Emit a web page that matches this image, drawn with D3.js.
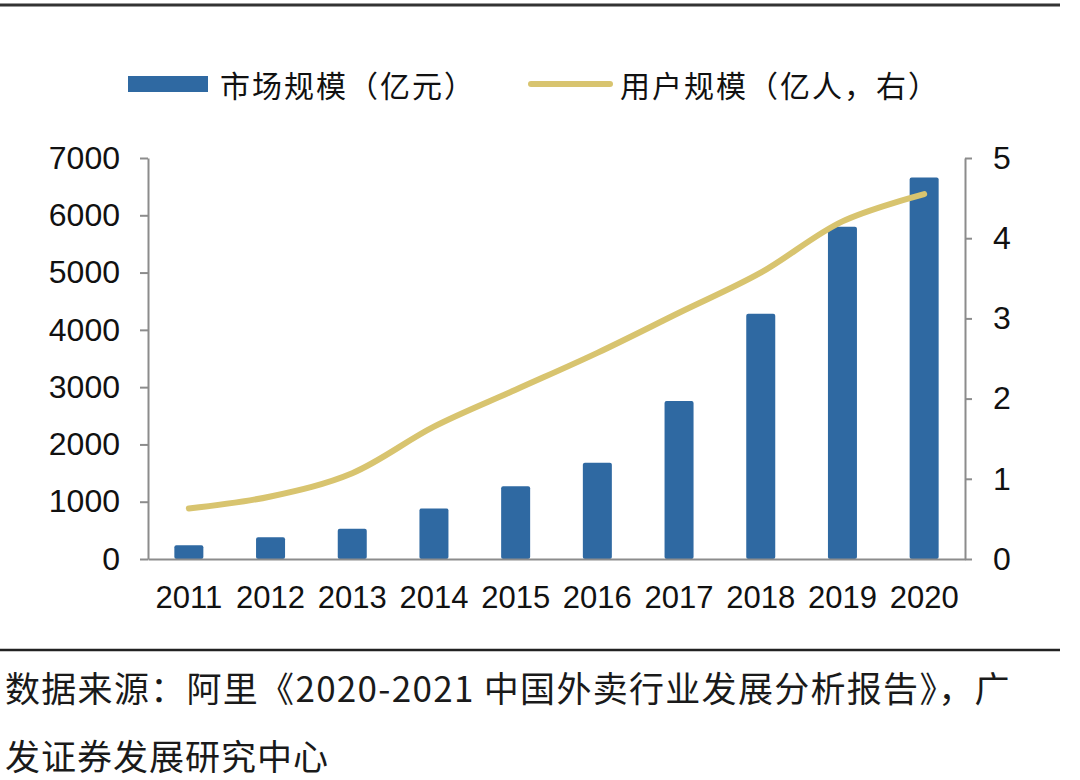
<!DOCTYPE html>
<html>
<head>
<meta charset="utf-8">
<script src="https://cdn.jsdelivr.net/npm/d3@7"></script>
<style>
  body { margin: 0; background: #fff; }
  svg { display: block; }
</style>
</head>
<body>
<div id="chart"></div>
<script>
// Data
const years = ["2011", "2012", "2013", "2014", "2015", "2016", "2017", "2018", "2019", "2020"];
const marketSize = [240, 380, 530, 880, 1270, 1680, 2760, 4280, 5800, 6660]; // 亿元
const users = [0.63, 0.78, 1.07, 1.65, 2.11, 2.57, 3.07, 3.57, 4.21, 4.55];   // 亿人, right axis
const leftTicks = [0, 1000, 2000, 3000, 4000, 5000, 6000, 7000];
const rightTicks = [0, 1, 2, 3, 4, 5];

// Colours
const barBlue = "#2f69a2";
const lineGold = "#d8c46f";
const axisGrey = "#8c8c8c";

const width = 1080;
const height = 780;
const plot = {left: 148, right: 965, top: 158, bottom: 559};

const numFont = "'Liberation Sans', Arial, Helvetica, sans-serif";
const cjkFont = "'Noto Sans CJK SC', 'Noto Sans', sans-serif";

const svg = d3.select("#chart")
    .append("svg")
    .attr("width", width)
    .attr("height", height);

// Rules above and below the chart
svg.append("line")
    .attr("x1", 0).attr("x2", 1060)
    .attr("y1", 5).attr("y2", 5)
    .attr("stroke", "#333").attr("stroke-width", 3);

svg.append("line")
    .attr("x1", 0).attr("x2", 1060)
    .attr("y1", 650).attr("y2", 650)
    .attr("stroke", "#222").attr("stroke-width", 2.5);

// Scales
const xScale = d3.scaleBand()
    .domain(years)
    .range([plot.left, plot.right])
    .paddingInner(0.645)
    .paddingOuter(0.3225);

const yLeft = d3.scaleLinear()
    .domain([0, 7000])
    .range([plot.bottom, plot.top]);

const yRight = d3.scaleLinear()
    .domain([0, 5])
    .range([plot.bottom, plot.top]);

// Bars
svg.append("g")
    .selectAll("rect")
    .data(years)
    .enter()
    .append("rect")
    .attr("x", d => xScale(d))
    .attr("width", xScale.bandwidth())
    .attr("y", (d, i) => yLeft(marketSize[i]))
    .attr("height", (d, i) => plot.bottom - yLeft(marketSize[i]))
    .attr("rx", 2)
    .attr("fill", barBlue);

// Axes
const styleAxis = (g, size) => {
    g.select(".domain").attr("stroke", axisGrey).attr("stroke-width", 2);
    g.selectAll(".tick line").attr("stroke", axisGrey).attr("stroke-width", 2);
    g.selectAll("text")
        .attr("fill", "#111")
        .style("font-family", numFont)
        .style("font-size", size);
};

svg.append("g")
    .attr("transform", `translate(${plot.left},0)`)
    .call(d3.axisLeft(yLeft).tickValues(leftTicks).tickFormat(d3.format("d"))
        .tickSize(8).tickSizeOuter(0).tickPadding(20))
    .call(styleAxis, "32px");

svg.append("g")
    .attr("transform", `translate(${plot.right},0)`)
    .call(d3.axisRight(yRight).tickValues(rightTicks).tickFormat(d3.format("d"))
        .tickSize(7).tickSizeOuter(0).tickPadding(21))
    .call(styleAxis, "32px");

svg.append("g")
    .attr("transform", `translate(0,${plot.bottom})`)
    .call(d3.axisBottom(xScale).tickSize(0).tickPadding(27))
    .call(styleAxis, "31px");

// User line (right axis)
const line = d3.line()
    .x((d, i) => xScale(years[i]) + xScale.bandwidth() / 2)
    .y(d => yRight(d))
    .curve(d3.curveCatmullRom.alpha(0.5));

svg.append("path")
    .datum(users)
    .attr("d", line)
    .attr("fill", "none")
    .attr("stroke", lineGold)
    .attr("stroke-width", 6)
    .attr("stroke-linecap", "round");

// Legend
const legend = svg.append("g");

legend.append("rect")
    .attr("x", 128).attr("y", 76)
    .attr("width", 80).attr("height", 16)
    .attr("fill", barBlue);

legend.append("text")
    .attr("x", 220).attr("y", 84)
    .attr("dominant-baseline", "central")
    .style("font-family", cjkFont)
    .style("font-size", "30px")
    .style("letter-spacing", "2px")
    .attr("fill", "#111")
    .text("市场规模（亿元）");

legend.append("line")
    .attr("x1", 531).attr("x2", 610)
    .attr("y1", 84).attr("y2", 84)
    .attr("stroke", lineGold)
    .attr("stroke-width", 6)
    .attr("stroke-linecap", "round");

legend.append("text")
    .attr("x", 620).attr("y", 84)
    .attr("dominant-baseline", "central")
    .style("font-family", cjkFont)
    .style("font-size", "30px")
    .style("letter-spacing", "2px")
    .attr("fill", "#111")
    .text("用户规模（亿人，右）");

// Source note
const note = svg.append("g")
    .style("font-family", cjkFont)
    .style("font-size", "35px")
    .attr("fill", "#1a1a1a");

note.append("text")
    .attr("x", 5).attr("y", 686)
    .attr("dominant-baseline", "central")
    .style("letter-spacing", "1.3px")
    .text("数据来源：阿里《2020-2021 中国外卖行业发展分析报告》，广");

note.append("text")
    .attr("x", 5).attr("y", 754)
    .attr("dominant-baseline", "central")
    .style("letter-spacing", "1px")
    .text("发证券发展研究中心");
</script>
</body>
</html>
